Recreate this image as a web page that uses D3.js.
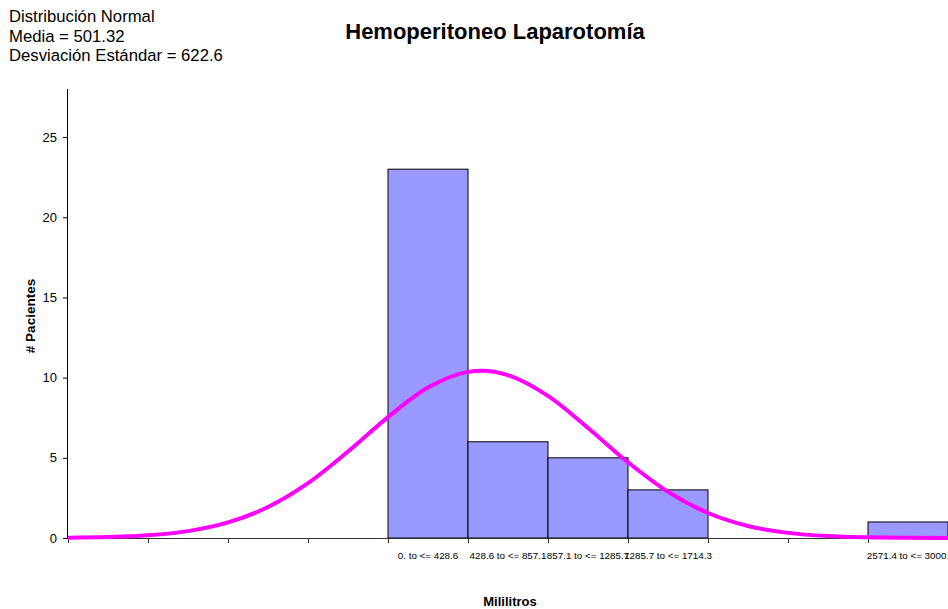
<!DOCTYPE html>
<html><head><meta charset="utf-8">
<script src="https://cdn.jsdelivr.net/npm/d3@7"></script>
<style>body{margin:0;background:#fff}svg{display:block;font-family:"Liberation Sans",Arial,sans-serif}</style>
</head><body>
<svg id="c" width="948" height="609"></svg>
<script>
// Bin edges (Mililitros)
const binEdges = [-1714.3, -1285.7, -857.1, -428.6, 0, 428.6, 857.1, 1285.7, 1714.3, 2142.9, 2571.4, 3000];
// Counts per bin
const counts = [0, 0, 0, 0, 23, 6, 5, 3, 0, 0, 1];
// Category labels shown under bars
const binLabels = ["", "", "", "", "0. to <= 428.6", "428.6 to <= 857.1", "857.1 to <= 1285.7", "1285.7 to <= 1714.3", "", "", "2571.4 to <= 3000."];
// Normal curve points (x in ml, y in patients)
const curveX = [-1714.3, -1500, -1285.7, -1071.4, -857.1, -642.9, -428.6, -214.3, 0, 214.3, 428.6, 501.32, 642.9, 857.1, 1071.4, 1285.7, 1500, 1714.3, 1928.6, 2142.9, 2357.1, 2571.4, 2785.7, 3000];
const curveY = [0.02, 0.06, 0.17, 0.43, 0.97, 1.93, 3.42, 5.39, 7.54, 9.38, 10.36, 10.43, 10.16, 8.86, 6.86, 4.72, 2.88, 1.56, 0.75, 0.32, 0.12, 0.04, 0.01, 0.0];
const yTicks = [0, 5, 10, 15, 20, 25];
const infoLines = ["Distribución Normal", "Media = 501.32", "Desviación Estándar = 622.6"];

const svg = d3.select("#c");
const L = 68, R = 948, T = 89, B = 538;
const x = d3.scaleLinear().domain([binEdges[0], binEdges[binEdges.length - 1]]).range([L, R]);
const y = d3.scaleLinear().domain([0, 28]).range([B, T]);

// bars
const bins = counts.map((c, i) => ({c, x0: binEdges[i], x1: binEdges[i + 1], label: binLabels[i]}));
svg.append("g").selectAll("rect").data(bins.filter(d => d.c > 0)).join("rect")
  .attr("x", d => x(d.x0)).attr("y", d => y(d.c))
  .attr("width", d => x(d.x1) - x(d.x0)).attr("height", d => y(0) - y(d.c))
  .attr("fill", "#9999ff").attr("stroke", "#000").attr("stroke-width", 1);

// x axis
const xAxis = d3.axisBottom(x).tickValues(binEdges).tickSize(5).tickFormat("");
const gx = svg.append("g").attr("transform", `translate(0,${B})`).call(xAxis);
gx.select(".domain").attr("stroke", "#333");
gx.selectAll(".tick line").attr("stroke", "#333");
svg.append("g").selectAll("text").data(bins).join("text")
  .attr("x", d => x((d.x0 + d.x1) / 2)).attr("y", 559)
  .attr("text-anchor", "middle").attr("font-size", 9.8).attr("fill", "#000")
  .text(d => d.label);

// y axis
const yAxis = d3.axisLeft(y).tickValues(yTicks).tickSize(5).tickPadding(6);
const gy = svg.append("g").attr("transform", `translate(${L},0)`).call(yAxis);
gy.select(".domain").attr("stroke", "#000").attr("d", `M-0.5,${T}V${B}`);
gy.selectAll(".tick text").attr("font-size", 13).attr("font-family", "Liberation Sans, Arial, sans-serif").attr("fill", "#000");

// normal curve
const line = d3.line().x((d, i) => x(curveX[i])).y(d => y(d)).curve(d3.curveMonotoneX);
svg.append("path").datum(curveY).attr("d", line)
  .attr("fill", "none").attr("stroke", "#ff00ff").attr("stroke-width", 4);

// titles
svg.append("text").attr("x", 495).attr("y", 39).attr("text-anchor", "middle")
  .attr("font-size", 22).attr("font-weight", "bold").text("Hemoperitoneo Laparotomía");
svg.append("g").selectAll("text").data(infoLines).join("text")
  .attr("x", 9).attr("y", (d, i) => 22 + i * 19.5).attr("font-size", 16.7).text(d => d);
svg.append("text").attr("transform", "translate(35,316) rotate(-90)").attr("text-anchor", "middle")
  .attr("font-size", 13.5).attr("font-weight", "bold").text("# Pacientes");
svg.append("text").attr("x", 510).attr("y", 606).attr("text-anchor", "middle")
  .attr("font-size", 13).attr("font-weight", "bold").text("Mililitros");
</script>
</body></html>
